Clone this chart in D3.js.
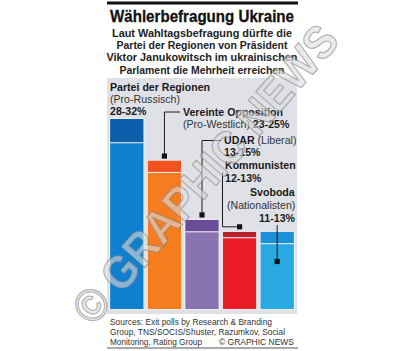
<!DOCTYPE html>
<html lang="de">
<head>
    <meta charset="UTF-8">
    <title>Wählerbefragung Ukraine</title>
    <script src="https://d3js.org/d3.v7.min.js"></script>
    <style>
        body { margin: 0; background: #fff; }
        svg { font-family: "Liberation Sans", Arial, sans-serif; display: block; }
        .b { font-weight: bold; }
    </style>
</head>
<body>
    <div id="chart"></div>
    <script>
        // exit poll ranges in percent
        const parties = ["Partei der Regionen", "Vereinte Opposition", "UDAR", "Kommunisten", "Svoboda"];
        const leanings = ["(Pro-Russisch)", "(Pro-Westlich)", "(Liberal)", "", "(Nationalisten)"];
        const lows = [28, 23, 13, 12, 11];
        const highs = [32, 25, 15, 13, 13];
        const rangeLabels = ["28-32%", "23-25%", "13-15%", "12-13%", "11-13%"];

        const topColors = ["#0b5fab", "#f1521f", "#6a4b98", "#b7202f", "#1b90d6"];
        const bodyColors = ["#0f80cf", "#f57d20", "#8a73b1", "#ec1c26", "#28a9e1"];

        const W = 404, H = 351;
        const svg = d3.select("#chart").append("svg")
            .attr("width", W).attr("height", H);

        // header
        svg.append("rect").attr("x", 107).attr("y", 1.5).attr("width", 191).attr("height", 3).attr("fill", "#111");
        svg.append("text").attr("class", "b")
            .attr("x", 110).attr("y", 21.5)
            .attr("font-size", 17).attr("fill", "#111")
            .attr("stroke", "#111").attr("stroke-width", 0.3)
            .attr("textLength", 184).attr("lengthAdjust", "spacingAndGlyphs")
            .text("Wählerbefragung Ukraine");

        const sub = [
            ["Laut Wahltagsbefragung dürfte die", 180],
            ["Partei der Regionen von Präsident", 171],
            ["Viktor Janukowitsch im ukrainischen", 191],
            ["Parlament die Mehrheit erreichen", 165]
        ];
        sub.forEach((s, i) => {
            svg.append("text").attr("class", "b")
                .attr("x", 202).attr("y", 37 + i * 12.2)
                .attr("text-anchor", "middle")
                .attr("font-size", 11.2).attr("fill", "#222")
                .attr("textLength", s[1]).attr("lengthAdjust", "spacingAndGlyphs")
                .text(s[0]);
        });

        // panel
        svg.append("rect").attr("x", 107).attr("y", 78).attr("width", 190).attr("height", 236)
            .attr("fill", "#dfe1e6");

        const x = d3.scaleBand()
            .domain(parties)
            .range([109, 295])
            .paddingInner(0.11)
            .paddingOuter(0.03);

        const y = d3.scaleLinear()
            .domain([0, 32])
            .range([309, 119]);

        const bars = svg.append("g").selectAll("g")
            .data(parties)
            .join("g");

        bars.append("rect")
            .attr("x", d => x(d))
            .attr("y", (d, i) => y(lows[i]))
            .attr("width", x.bandwidth())
            .attr("height", (d, i) => y(0) - y(lows[i]))
            .attr("fill", (d, i) => bodyColors[i]);

        bars.append("rect")
            .attr("x", d => x(d))
            .attr("y", (d, i) => y(highs[i]))
            .attr("width", x.bandwidth())
            .attr("height", (d, i) => y(lows[i]) - y(highs[i]))
            .attr("fill", (d, i) => topColors[i]);

        bars.append("line")
            .attr("x1", d => x(d)).attr("x2", d => x(d) + x.bandwidth())
            .attr("y1", (d, i) => y(lows[i])).attr("y2", (d, i) => y(lows[i]))
            .attr("stroke", "#f4f4f4").attr("stroke-width", 1);

        bars.append("rect")
            .attr("x", d => x(d) - 0.5)
            .attr("y", (d, i) => y(highs[i]) - 0.5)
            .attr("width", x.bandwidth() + 1)
            .attr("height", (d, i) => y(0) - y(highs[i]) + 1)
            .attr("fill", "none")
            .attr("stroke", "#f5f6f8").attr("stroke-opacity", 0.8).attr("stroke-width", 0.8);

        // labels
        const cx = i => x(parties[i]) + x.bandwidth() / 2;
        const lab = svg.append("g").attr("font-size", 10.6).attr("fill", "#1a1a1a");

        function line(xp, yp, parts, anchor) {
            const t = lab.append("text").attr("x", xp).attr("y", yp).attr("text-anchor", anchor || "start");
            parts.forEach(p => {
                t.append("tspan").attr("font-weight", p[1] ? "bold" : "normal")
                    .attr("fill", p[1] ? "#1a1a1a" : "#333").text(p[0]);
            });
        }

        line(110, 91, [[parties[0], true]]);
        line(110, 103, [[leanings[0], false]]);
        line(110, 114.5, [[rangeLabels[0], true]]);

        line(183, 116, [[parties[1], true]]);
        line(183, 128, [[leanings[1] + " ", false], [rangeLabels[1], true]]);

        line(224, 144, [[parties[2] + " ", true], [leanings[2], false]]);
        line(224, 156, [[rangeLabels[2], true]]);

        line(225, 169, [[parties[3], true]]);
        line(225, 182, [[rangeLabels[3], true]]);

        line(250, 196, [[parties[4], true]]);
        line(227, 208.5, [[leanings[4], false]]);
        line(295, 221.5, [[rangeLabels[4], true]], "end");

        // leader lines
        const lead = svg.append("g").attr("fill", "none").attr("stroke", "#1a1a1a").attr("stroke-width", 1);
        const dia = [];

        const oY = y(highs[1]) - 4.5;
        lead.append("path").attr("d", `M${cx(1)},${oY}V112H180`);
        dia.push([cx(1), oY]);

        const uY = y(highs[2]) - 5;
        lead.append("path").attr("d", `M${cx(2)},${uY}V140.5H221`);
        dia.push([cx(2), uY]);

        const kY = y(highs[3]) - 5;
        lead.append("path").attr("d", `M222.5,172V${kY}H${cx(3)}`);
        dia.push([cx(3), kY]);

        const sY = y(8);
        lead.append("path").attr("d", `M${cx(4)},225V${sY}`);
        dia.push([cx(4), sY]);

        svg.append("g").selectAll("path")
            .data(dia)
            .join("path")
            .attr("d", d3.symbol(d3.symbolDiamond2, 34))
            .attr("transform", d => `translate(${d[0]},${d[1]}) rotate(45)`)
            .attr("fill", "#111");

        // sources
        const src = svg.append("g").attr("font-size", 9).attr("fill", "#333")
            .attr("lengthAdjust", "spacingAndGlyphs");
        const srcLines = [
            ["Sources: Exit polls by Research & Branding", 162],
            ["Group, TNS/SOCIS/Shuster, Razumkov, Social", 175],
            ["Monitoring, Rating Group", 92]
        ];
        srcLines.forEach((s, i) => {
            src.append("text").attr("x", 110).attr("y", 324.5 + i * 10)
                .attr("textLength", s[1]).attr("lengthAdjust", "spacingAndGlyphs")
                .text(s[0]);
        });
        src.append("text").attr("x", 294).attr("y", 344.5).attr("text-anchor", "end")
            .attr("textLength", 75).attr("lengthAdjust", "spacingAndGlyphs")
            .text("© GRAPHIC NEWS");
        svg.append("rect").attr("x", 107).attr("y", 347.5).attr("width", 191).attr("height", 1).attr("fill", "#555");

        // watermark
        svg.append("text")
            .attr("transform", "translate(205,174) rotate(-49)")
            .attr("text-anchor", "middle").attr("dominant-baseline", "central")
            .attr("font-size", 46).attr("font-weight", "bold")
            .attr("textLength", 378).attr("lengthAdjust", "spacingAndGlyphs")
            .attr("fill", "#dcdcdc").attr("fill-opacity", 0.6)
            .attr("stroke", "#7a7a7a").attr("stroke-opacity", 0.55).attr("stroke-width", 1.2)
            .text("© GRAPHIC NEWS");
    </script>
</body>
</html>
